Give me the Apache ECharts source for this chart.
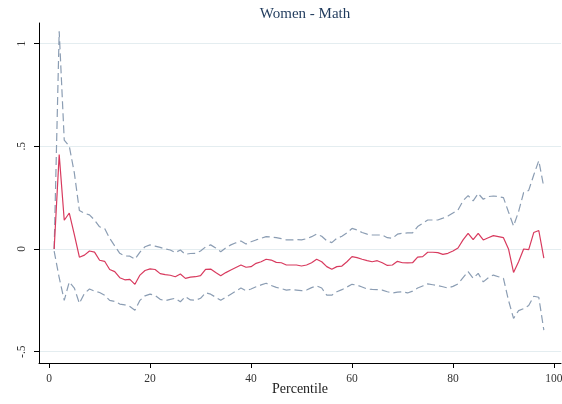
<!DOCTYPE html>
<html>
<head>
<meta charset="utf-8">
<script src="https://cdn.jsdelivr.net/npm/echarts@6/dist/echarts.min.js"></script>
<style>
  html, body { margin: 0; padding: 0; background: #ffffff; }
  #chart { width: 562px; height: 404px; }
</style>
</head>
<body>
<div id="chart"></div>
<script>
// Percentile-wise estimate with 95% confidence band, women, math score
const percentiles = Array.from({ length: 98 }, (_, i) => i + 1);

const estimate = [
  0.0, 0.46, 0.14, 0.175, 0.07, -0.04, -0.03, -0.01, -0.015, -0.055,
  -0.06, -0.10, -0.11, -0.14, -0.15, -0.148, -0.172, -0.127, -0.105, -0.097,
  -0.10, -0.12, -0.125, -0.128, -0.135, -0.122, -0.143, -0.137, -0.135, -0.13,
  -0.099, -0.098, -0.115, -0.13, -0.115, -0.102, -0.09, -0.078, -0.089, -0.086,
  -0.07, -0.062, -0.05, -0.054, -0.065, -0.067, -0.078, -0.078, -0.078, -0.083,
  -0.078, -0.067, -0.05, -0.062, -0.086, -0.099, -0.086, -0.083, -0.062, -0.037,
  -0.042, -0.05, -0.057, -0.062, -0.057, -0.067, -0.08, -0.078, -0.06, -0.067,
  -0.068, -0.067, -0.04, -0.037, -0.016, -0.016, -0.018, -0.026, -0.021, -0.01,
  0.005, 0.044, 0.076, 0.045, 0.076, 0.044, 0.055, 0.065, 0.06, 0.055,
  0.0, -0.114, -0.062, 0.0, -0.003, 0.08, 0.09, -0.045
];

const upperBound = [
  0.0, 1.06, 0.53, 0.50, 0.37, 0.187, 0.174, 0.166, 0.141, 0.108,
  0.10, 0.052, 0.015, -0.021, -0.034, -0.035, -0.05, -0.015, 0.011, 0.02,
  0.014, 0.008, 0.0, -0.005, -0.018, -0.005, -0.026, -0.022, -0.021, -0.01,
  0.01, 0.02, 0.005, -0.013, 0.005, 0.02, 0.03, 0.039, 0.024, 0.035,
  0.044, 0.052, 0.06, 0.058, 0.055, 0.05, 0.044, 0.044, 0.046, 0.044,
  0.05, 0.06, 0.073, 0.062, 0.04, 0.031, 0.052, 0.062, 0.078, 0.10,
  0.093, 0.08, 0.072, 0.068, 0.068, 0.068, 0.055, 0.052, 0.072, 0.077,
  0.078, 0.078, 0.109, 0.125, 0.141, 0.141, 0.141, 0.15, 0.16, 0.175,
  0.19, 0.235, 0.26, 0.234, 0.27, 0.242, 0.255, 0.258, 0.255, 0.25,
  0.18, 0.112, 0.182, 0.275, 0.285, 0.36, 0.43, 0.30
];

const lowerBound = [
  -0.01, -0.14, -0.25, -0.16, -0.19, -0.265, -0.216, -0.195, -0.205, -0.212,
  -0.225, -0.25, -0.255, -0.268, -0.272, -0.28, -0.298, -0.25, -0.228, -0.22,
  -0.226, -0.245, -0.252, -0.245, -0.24, -0.257, -0.232, -0.248, -0.25, -0.24,
  -0.213, -0.22, -0.235, -0.25, -0.235, -0.22, -0.205, -0.19, -0.203, -0.195,
  -0.184, -0.175, -0.167, -0.178, -0.187, -0.193, -0.2, -0.197, -0.2, -0.203,
  -0.2, -0.188, -0.18, -0.19, -0.225, -0.225, -0.208, -0.198, -0.185, -0.172,
  -0.176, -0.185, -0.195, -0.197, -0.198, -0.2, -0.208, -0.214, -0.21, -0.208,
  -0.214, -0.205, -0.19, -0.18, -0.17, -0.174, -0.178, -0.184, -0.19, -0.182,
  -0.17, -0.14, -0.11, -0.143, -0.119, -0.16, -0.14, -0.127, -0.135, -0.143,
  -0.25, -0.338, -0.30, -0.29, -0.275, -0.23, -0.235, -0.395
];

const xTicks = [0, 20, 40, 60, 80, 100];
const yTicks = [-0.5, 0, 0.5, 1];
const yTickText = { '-0.5': '-.5', '0': '0', '0.5': '.5', '1': '1' };

const serif = '"Liberation Serif", "DejaVu Serif", serif';
const pair = (ys) => percentiles.map((p, i) => [p, ys[i]]);

const chart = echarts.init(document.getElementById('chart'), null, { renderer: 'canvas' });

chart.setOption({
  backgroundColor: '#ffffff',
  animation: false,
  title: {
    text: 'Women - Math',
    left: 300,
    textAlign: 'center',
    top: 2,
    textStyle: { fontFamily: serif, fontSize: 15, fontWeight: 'normal', color: '#1f3a5c' }
  },
  grid: { left: 39, right: 1, top: 23, bottom: 41, containLabel: false, outerBoundsMode: 'none' },
  xAxis: {
    type: 'value',
    min: -2,
    max: 101.4,
    name: 'Percentile',
    nameLocation: 'middle',
    nameGap: 19,
    nameMoveOverlap: false,
    nameTextStyle: { fontFamily: serif, fontSize: 14, color: '#222' },
    axisLine: { onZero: false, lineStyle: { color: '#000', width: 1 } },
    axisTick: { show: true, length: 5, customValues: xTicks, lineStyle: { color: '#000' } },
    axisLabel: { customValues: xTicks, fontFamily: serif, fontSize: 11.5, color: '#333', margin: 10 },
    splitLine: { show: false }
  },
  yAxis: {
    type: 'value',
    min: -0.555,
    max: 1.1,
    axisLine: { show: true, onZero: false, lineStyle: { color: '#000', width: 1 } },
    axisTick: { show: true, length: 5, customValues: yTicks, lineStyle: { color: '#000' } },
    axisLabel: {
      customValues: yTicks,
      rotate: 90,
      fontFamily: serif,
      fontSize: 11.5,
      color: '#333',
      margin: 11,
      formatter: (v) => yTickText[String(v)] ?? String(v)
    },
    splitLine: { show: true, lineStyle: { color: '#e4edf0', width: 1 } }
  },
  series: [
    {
      name: 'Upper',
      type: 'line',
      data: pair(upperBound),
      showSymbol: false,
      lineStyle: { color: '#8b9db3', width: 1.2, type: [8, 4] },
      z: 2
    },
    {
      name: 'Lower',
      type: 'line',
      data: pair(lowerBound),
      showSymbol: false,
      lineStyle: { color: '#8b9db3', width: 1.2, type: [8, 4] },
      z: 2
    },
    {
      name: 'Estimate',
      type: 'line',
      data: pair(estimate),
      showSymbol: false,
      lineStyle: { color: '#d83a5e', width: 1.2 },
      z: 3
    }
  ]
});
</script>
</body>
</html>
